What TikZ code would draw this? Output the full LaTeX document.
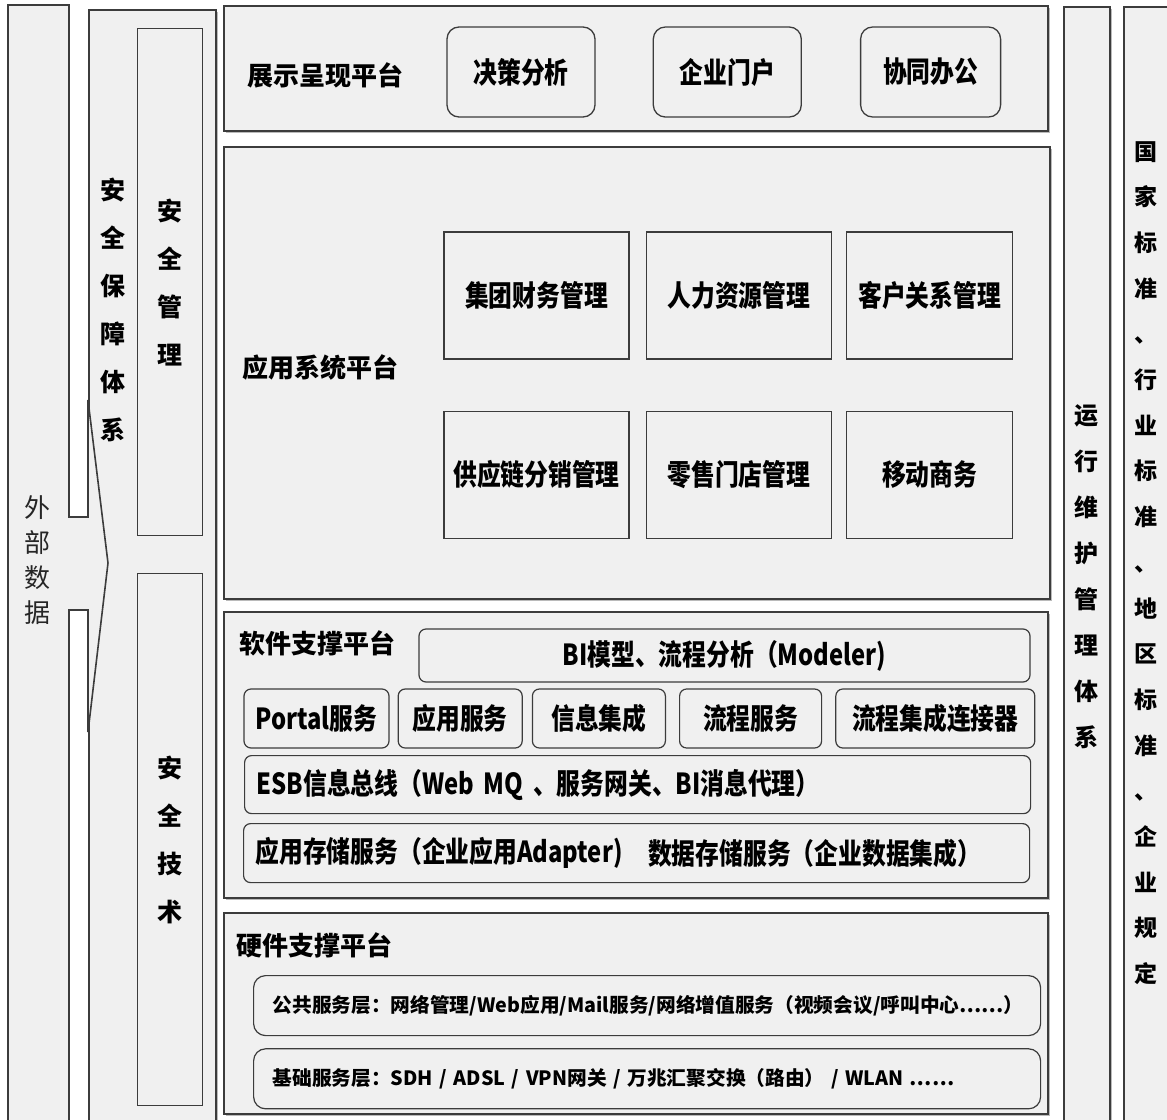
\documentclass[tikz,border=0pt]{standalone}
\usepackage{fontspec}
\usepackage{tikz}
\usetikzlibrary{positioning, shadows}
\newfontfamily\cjk{Noto Sans CJK SC}
\newfontfamily\cjkn[FakeStretch=0.82]{Noto Sans CJK SC}
\definecolor{panelbg}{RGB}{240,240,240}
\definecolor{edge}{RGB}{60,60,60}
\tikzset{
  shade/.style={drop shadow={shadow xshift=2pt, shadow yshift=-2pt, fill=black!60, opacity=0.45}},
  panel/.style={draw=edge, line width=1.6pt, fill=panelbg, anchor=north west, inner sep=0pt, shade},
  inbox/.style={draw=edge, line width=1.4pt, fill=panelbg, anchor=north west, inner sep=0pt,
                font=\cjk\bfseries\fontsize{25}{48}\selectfont, align=center},
  vtext/.style={font=\cjk\bfseries\fontsize{25}{48}\selectfont, align=center, inner sep=0pt},
  title/.style={font=\cjk\bfseries\fontsize{26}{30}\selectfont, anchor=west, inner sep=0pt},
  showbox/.style={draw=edge, line width=1.3pt, fill=panelbg, rounded corners=12pt,
                  minimum width=148pt, minimum height=90pt, font=\cjkn\bfseries\fontsize{29}{32}\selectfont},
  appbox/.style={draw=edge, line width=1.3pt, fill=panelbg,
                 minimum width=185pt, minimum height=127pt, font=\cjkn\bfseries\fontsize{29}{32}\selectfont},
  swbox/.style={draw=edge, line width=1.2pt, fill=panelbg, rounded corners=7pt,
                minimum height=59pt, font=\cjkn\bfseries\fontsize{29}{32}\selectfont},
  swline/.style={swbox, anchor=north west, text width=762pt, inner xsep=12pt, align=left},
  swtext/.style={font=\cjkn\bfseries\fontsize{29}{32}\selectfont, anchor=west, inner sep=0pt},
  hwbox/.style={draw=edge, line width=1.2pt, fill=panelbg, rounded corners=12pt, minimum height=60pt,
                text width=749pt, inner xsep=19pt, align=left, font=\cjk\bfseries\fontsize{19.7}{22}\selectfont}
}

\begin{document}
\begin{tikzpicture}[x=1pt, y=-1pt]
  \useasboundingbox (0,0) rectangle (1167,1119);
  % security column and external data arrow
  \node[panel, minimum width=127pt, minimum height=1130pt] (aqbz) at (88,9) {};
  \draw[draw=edge, line width=1.6pt, fill=panelbg] (8,5) -- (69,5) -- (69,517) -- (88,517) -- (88,400)
    -- (108,563) -- (88,732) -- (88,610) -- (69,610) -- (69,1140) -- (8,1140) -- cycle;
  \node[font=\cjk\fontsize{26}{35}\selectfont, align=center, inner sep=0pt, text=black!85] (wbsj) at (37,560) {外\\部\\数\\据};
  \node[vtext] (aqbztx) at (113,310) {安\\全\\保\\障\\体\\系};
  \node[inbox, minimum width=65pt, minimum height=507pt] (aqgl) at (137,28) {安\\全\\管\\理};
  \node[inbox, minimum width=65pt, minimum height=532pt] (aqjs) at (137,573) {安\\全\\技\\术};

  % platforms
  \node[panel, minimum width=824pt, minimum height=125pt] (zsp) at (223,5) {};
  \node[panel, minimum width=826pt, minimum height=452pt] (yyp) at (223,146) {};
  \node[panel, minimum width=824pt, minimum height=286pt] (rjp) at (223,611) {};
  \node[panel, minimum width=824pt, minimum height=201pt] (yjp) at (223,912) {};

  % right columns
  \node[panel, minimum width=46pt, minimum height=1140pt, font=\cjk\bfseries\fontsize{24}{46}\selectfont,
        align=center] (ywp) at (1063,6) {运\\行\\维\\护\\管\\理\\体\\系};
  \node[panel, minimum width=80pt, minimum height=1140pt] (bzp) at (1123,6) {};
  \node[vtext, font=\cjk\bfseries\fontsize{23}{45.7}\selectfont] (bztx) at (1146,563)
    {国\\家\\标\\准\\、\\行\\业\\标\\准\\、\\地\\区\\标\\准\\、\\企\\业\\规\\定};

  % presentation platform
  \node[title] (zstt) at (247,75) {展示呈现平台};
  \node[showbox] (jcfx) at (521,72) {决策分析};
  \node[showbox, right=57pt of jcfx] (qymh) {企业门户};
  \node[showbox, right=58pt of qymh, minimum width=140pt] (xtbg) {协同办公};

  % application platform
  \node[title] (yytt) at (242,367) {应用系统平台};
  \node[appbox] (jtcw) at (536.5,295.5) {集团财务管理};
  \node[appbox, right=16pt of jtcw] (rlzy) {人力资源管理};
  \node[appbox, right=14pt of rlzy, minimum width=166pt] (khgx) {客户关系管理};
  \node[appbox, below=51pt of jtcw] (gyl) {供应链分销管理};
  \node[appbox, below=51pt of rlzy] (lsmd) {零售门店管理};
  \node[appbox, below=51pt of khgx, minimum width=166pt] (ydsw) {移动商务};

  % software platform
  \node[title] (rjtt) at (239,643) {软件支撑平台};
  \node[swbox, minimum width=611pt, minimum height=53pt] (bimx) at (724.5,655.5) {BI模型、流程分析（Modeler)};
  \node[swbox, minimum width=145pt] (portal) at (316.5,718.5) {Portal服务};
  \node[swbox, right=8pt of portal, minimum width=124pt] (yyfw) {应用服务};
  \node[swbox, right=9pt of yyfw, minimum width=133pt] (xxjc) {信息集成};
  \node[swbox, right=13pt of xxjc, minimum width=142pt] (lcfw) {流程服务};
  \node[swbox, right=13pt of lcfw, minimum width=199pt] (lclj) {流程集成连接器};
  \node[swline, minimum height=58pt] (esb) at (244,755) {ESB信息总线（Web MQ 、服务网关、BI消息代理）};
  \node[swline] (cc) at (243,823) {应用存储服务（企业应用Adapter)};
  \node[swtext] (sjcc) at (648,853) {数据存储服务（企业数据集成）};

  % hardware platform
  \node[title] (yjtt) at (236,945) {硬件支撑平台};
  \node[hwbox, anchor=north west] (ggfw) at (253,975)
    {公共服务层：网络管理/Web应用/Mail服务/网络增值服务（视频会议/呼叫中心……）};
  \node[hwbox, below=12pt of ggfw] (jcfw)
    {基础服务层：SDH / ADSL / VPN网关 / 万兆汇聚交换（路由） / WLAN ……};
\end{tikzpicture}
\end{document}
